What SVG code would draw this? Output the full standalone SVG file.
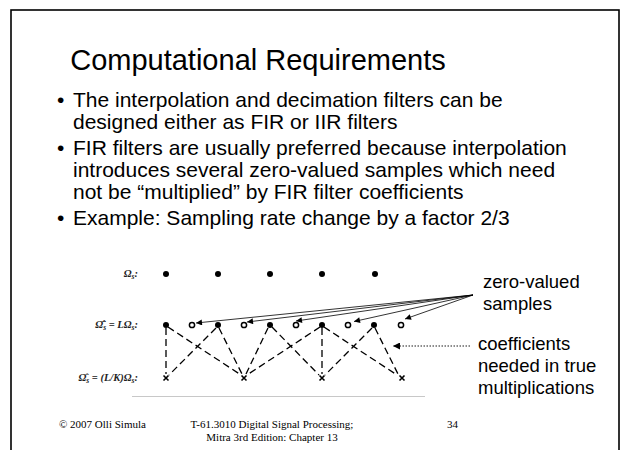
<svg xmlns="http://www.w3.org/2000/svg" width="622" height="450" viewBox="0 0 622 450">
  <style>
    .title { font-family: "Liberation Sans", Arial, sans-serif; font-size: 29px; fill: #000; }
    .body { font-family: "Liberation Sans", Arial, sans-serif; font-size: 21px; fill: #000; }
    .note { font-family: "Liberation Sans", Arial, sans-serif; font-size: 18.5px; fill: #000; }
    .foot { font-family: "Liberation Serif", "Times New Roman", serif; font-size: 11px; fill: #000; }
    .math { font-family: "Liberation Serif", "Times New Roman", serif; font-size: 10.5px; font-style: italic; font-weight: bold; fill: #222; }
    .dash { stroke: #000; stroke-width: 1.3; stroke-dasharray: 7 4; fill: none; }
    .ptr { stroke: #000; stroke-width: 0.8; fill: none; marker-end: url(#head); }
    .dot { fill: #000; }
    .open { fill: #fff; stroke: #000; stroke-width: 1.5; }
    .cross { stroke: #000; stroke-width: 1.6; fill: none; }
  </style>
  <defs>
    <marker id="head" viewBox="0 0 10 10" refX="10" refY="5" markerWidth="9" markerHeight="6" markerUnits="userSpaceOnUse" orient="auto">
      <path d="M0,0 L10,5 L0,10 Z" fill="#000"/>
    </marker>
    <marker id="headDot" viewBox="0 0 10 10" refX="10" refY="5" markerWidth="9" markerHeight="7" markerUnits="userSpaceOnUse" orient="auto">
      <path d="M0,0 L10,5 L0,10 Z" fill="#000"/>
    </marker>
  </defs>

  <rect width="622" height="450" fill="#fff"/>
  <!-- slide frame -->
  <rect x="11" y="10" width="608" height="460" fill="none" stroke="#000" stroke-width="1.6"/>

  <text class="title" x="258" y="70" text-anchor="middle">Computational Requirements</text>

  <g id="bullets">
    <text class="body" x="57" y="107">•</text>
    <text class="body" x="73" y="107">The interpolation and decimation filters can be</text>
    <text class="body" x="73" y="129">designed either as FIR or IIR filters</text>
    <text class="body" x="57" y="155">•</text>
    <text class="body" x="73" y="155">FIR filters are usually preferred because interpolation</text>
    <text class="body" x="73" y="177">introduces several zero-valued samples which need</text>
    <text class="body" x="73" y="199">not be “multiplied” by FIR filter coefficients</text>
    <text class="body" x="57" y="225">•</text>
    <text class="body" x="73" y="225">Example: Sampling rate change by a factor 2/3</text>
  </g>

  <!-- axis labels -->
  <g id="labels">
    <text class="math" x="138" y="277" text-anchor="end">Ω<tspan font-size="7.5" dy="2">s</tspan><tspan dy="-2">:</tspan></text>
    <text class="math" x="138" y="328" text-anchor="end">Ω̂̂<tspan font-size="7.5" dy="2">s</tspan><tspan dy="-2"> = LΩ</tspan><tspan font-size="7.5" dy="2">s</tspan><tspan dy="-2">:</tspan></text>
    <text class="math" x="138" y="381" text-anchor="end">Ω̂<tspan font-size="7.5" dy="2">s</tspan><tspan dy="-2"> = (L/K)Ω</tspan><tspan font-size="7.5" dy="2">s</tspan><tspan dy="-2">:</tspan></text>
  </g>

  <!-- connectors: filter taps and annotation pointers -->
  <g id="connectors">
    <line class="dash" x1="166" y1="328" x2="166" y2="374"/>
    <line class="dash" x1="168" y1="327" x2="241" y2="375"/>
    <line class="dash" x1="216" y1="328" x2="169" y2="375"/>
    <line class="dash" x1="219" y1="328" x2="242" y2="374"/>
    <line class="dash" x1="268" y1="328" x2="246" y2="374"/>
    <line class="dash" x1="272" y1="327" x2="319" y2="375"/>
    <line class="dash" x1="320" y1="327" x2="247" y2="375"/>
    <line class="dash" x1="322" y1="328" x2="322" y2="374"/>
    <line class="dash" x1="324" y1="327" x2="397" y2="375"/>
    <line class="dash" x1="372" y1="328" x2="325" y2="375"/>
    <line class="dash" x1="375" y1="328" x2="398" y2="374"/>

    <line class="ptr" x1="473" y1="295" x2="196" y2="323"/>
    <line class="ptr" x1="473" y1="295" x2="247" y2="322"/>
    <line class="ptr" x1="473" y1="295" x2="296" y2="321"/>
    <line class="ptr" x1="473" y1="295" x2="354" y2="321.5"/>
    <line class="ptr" x1="473" y1="295" x2="405" y2="319"/>

    <line x1="470" y1="346" x2="393" y2="346" stroke="#000" stroke-width="0.9" stroke-dasharray="1.5 1.5" marker-end="url(#headDot)"/>

    <line x1="132" y1="396.5" x2="425" y2="396.5" stroke="#c8c8c8" stroke-width="1"/>
  </g>

  <g id="input-samples">
    <circle class="dot" cx="166" cy="274" r="3"/>
    <circle class="dot" cx="218" cy="274" r="3"/>
    <circle class="dot" cx="270" cy="274" r="3"/>
    <circle class="dot" cx="322" cy="274" r="3"/>
    <circle class="dot" cx="375" cy="274" r="3"/>
  </g>

  <g id="upsampled">
    <circle class="dot" cx="166" cy="325" r="3"/>
    <circle class="open" cx="192" cy="325" r="2.6"/>
    <circle class="dot" cx="218" cy="325" r="3"/>
    <circle class="open" cx="244" cy="325" r="2.6"/>
    <circle class="dot" cx="270" cy="325" r="3"/>
    <circle class="open" cx="296" cy="325" r="2.6"/>
    <circle class="dot" cx="322" cy="325" r="3"/>
    <circle class="open" cx="348" cy="325" r="2.6"/>
    <circle class="dot" cx="374" cy="325" r="3"/>
    <circle class="open" cx="401" cy="325" r="2.6"/>
  </g>

  <g id="decimated">
    <path class="cross" d="M163.5,375.5 l5,5 M168.5,375.5 l-5,5"/>
    <path class="cross" d="M241.5,375.5 l5,5 M246.5,375.5 l-5,5"/>
    <path class="cross" d="M319.5,375.5 l5,5 M324.5,375.5 l-5,5"/>
    <path class="cross" d="M399.5,375.5 l5,5 M404.5,375.5 l-5,5"/>
  </g>

  <g id="note-zero">
    <text class="note" x="483" y="288">zero-valued</text>
    <text class="note" x="483" y="310">samples</text>
  </g>
  <g id="note-coeff">
    <text class="note" x="478" y="350">coefficients</text>
    <text class="note" x="478" y="372">needed in true</text>
    <text class="note" x="478" y="394">multiplications</text>
  </g>

  <g id="footer">
    <text class="foot" x="59" y="428">© 2007 Olli Simula</text>
    <text class="foot" x="272" y="428" text-anchor="middle">T-61.3010 Digital Signal Processing;</text>
    <text class="foot" x="272" y="441" text-anchor="middle">Mitra 3rd Edition: Chapter 13</text>
    <text class="foot" x="447" y="428">34</text>
  </g>
</svg>
